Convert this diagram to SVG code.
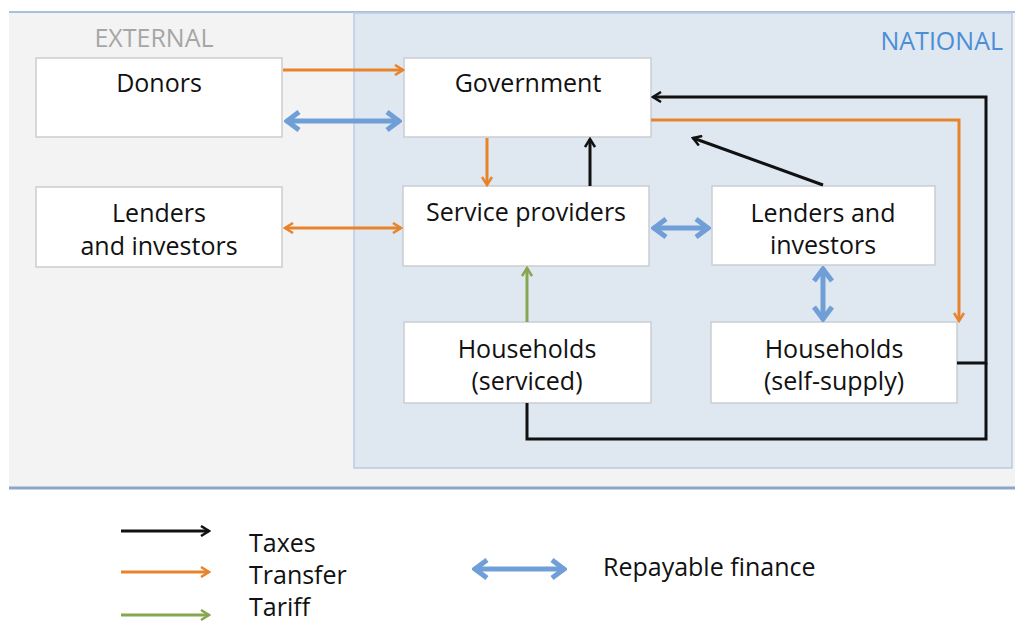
<svg xmlns="http://www.w3.org/2000/svg" width="1015" height="622" viewBox="0 0 1015 622">
<defs>
<style>
.box{fill:#ffffff;stroke:#cacdd2;stroke-width:1.5}
.t{font-family:"Open Sans","Liberation Sans",sans-serif;font-size:25px;font-weight:500;fill:#111;text-anchor:middle}
.lg{font-family:"Open Sans","Liberation Sans",sans-serif;font-size:25px;font-weight:500;fill:#111}
.hd{font-family:"Open Sans","Liberation Sans",sans-serif;font-size:25px;font-weight:500}
.blk{fill:none;stroke:#111;stroke-width:3}
.org{fill:none;stroke:#e8832a;stroke-width:3}
.grn{fill:none;stroke:#86a650;stroke-width:3}
.blu{fill:none;stroke:#6f9fd6;stroke-width:5}
</style>
<marker id="hk" viewBox="0 0 12 12" refX="10" refY="6" markerWidth="12" markerHeight="12" markerUnits="userSpaceOnUse" orient="auto-start-reverse"><path d="M2,1 L10,6 L2,11" fill="none" stroke="#111" stroke-width="2.5"/></marker>
<marker id="ho" viewBox="0 0 12 12" refX="10" refY="6" markerWidth="12" markerHeight="12" markerUnits="userSpaceOnUse" orient="auto-start-reverse"><path d="M2,1 L10,6 L2,11" fill="none" stroke="#e8832a" stroke-width="2.5"/></marker>
<marker id="hg" viewBox="0 0 12 12" refX="10" refY="6" markerWidth="12" markerHeight="12" markerUnits="userSpaceOnUse" orient="auto-start-reverse"><path d="M2,1 L10,6 L2,11" fill="none" stroke="#86a650" stroke-width="2.5"/></marker>
<marker id="hb" viewBox="0 0 18 22" refX="16" refY="11" markerWidth="18" markerHeight="22" markerUnits="userSpaceOnUse" orient="auto-start-reverse"><path d="M3,2 L15,11 L3,20" fill="none" stroke="#6f9fd6" stroke-width="5"/></marker>
</defs>
<rect x="0" y="0" width="1015" height="622" fill="#ffffff"/>
<rect x="9" y="11" width="1006" height="477" fill="#f3f3f3"/>
<line x1="9" y1="12" x2="1015" y2="12" stroke="#a9c0dc" stroke-width="2"/>
<line x1="9" y1="488" x2="1015" y2="488" stroke="#8aa6c8" stroke-width="3"/>
<rect x="354" y="13" width="658" height="455" fill="#dfe7f1" stroke="#b9cde5" stroke-width="1.5"/>
<text class="hd" x="154" y="47" fill="#a6a6a6" text-anchor="middle">EXTERNAL</text>
<text class="hd" x="1003" y="50" fill="#4a8fd6" text-anchor="end">NATIONAL</text>

<g id="donors"><rect class="box" x="36" y="58" width="246" height="79"/><text class="t" x="159" y="92">Donors</text></g>
<g id="government"><rect class="box" x="404" y="58" width="247" height="79"/><text class="t" x="528" y="92">Government</text></g>
<g id="lenders-external"><rect class="box" x="36" y="187" width="246" height="80"/><text class="t" x="159" y="222">Lenders</text><text class="t" x="159" y="255">and investors</text></g>
<g id="service-providers"><rect class="box" x="403" y="186" width="246" height="80"/><text class="t" x="526" y="221">Service providers</text></g>
<g id="lenders-national"><rect class="box" x="712" y="186" width="223" height="79"/><text class="t" x="823" y="222">Lenders and</text><text class="t" x="823" y="254">investors</text></g>
<g id="households-serviced"><rect class="box" x="404" y="322" width="247" height="81"/><text class="t" x="527" y="358">Households</text><text class="t" x="527" y="390">(serviced)</text></g>
<g id="households-self"><rect class="box" x="711" y="322" width="246" height="81"/><text class="t" x="834" y="358">Households</text><text class="t" x="834" y="390">(self-supply)</text></g>

<g id="connectors">
<line class="org" x1="283" y1="70" x2="403" y2="70" marker-end="url(#ho)"/>
<line class="blu" x1="286" y1="121" x2="400" y2="121" marker-start="url(#hb)" marker-end="url(#hb)"/>
<line class="org" x1="285" y1="228" x2="401" y2="228" marker-start="url(#ho)" marker-end="url(#ho)"/>
<line class="org" x1="487" y1="138" x2="487" y2="185" marker-end="url(#ho)"/>
<line class="blk" x1="590" y1="186" x2="590" y2="139" marker-end="url(#hk)"/>
<line class="blk" x1="823" y1="185" x2="693" y2="138" marker-end="url(#hk)"/>
<polyline class="blk" points="957,363 986,363 986,97 653,97" marker-end="url(#hk)"/>
<polyline class="blk" points="527,403 527,439 986,439 986,363"/>
<polyline class="org" points="651,120 959,120 959,321" marker-end="url(#ho)"/>
<line class="blu" x1="653" y1="228" x2="709" y2="228" marker-start="url(#hb)" marker-end="url(#hb)"/>
<line class="blu" x1="823" y1="268" x2="823" y2="320" marker-start="url(#hb)" marker-end="url(#hb)"/>
<line class="grn" x1="527" y1="322" x2="527" y2="268" marker-end="url(#hg)"/>
</g>

<g id="legend">
<line class="blk" x1="121" y1="531" x2="209" y2="531" marker-end="url(#hk)"/>
<line class="org" x1="121" y1="572" x2="209" y2="572" marker-end="url(#ho)"/>
<line class="grn" x1="121" y1="615" x2="209" y2="615" marker-end="url(#hg)"/>
<line class="blu" x1="474" y1="569" x2="565" y2="569" marker-start="url(#hb)" marker-end="url(#hb)"/>
<text class="lg" x="249" y="552">Taxes</text>
<text class="lg" x="249" y="584">Transfer</text>
<text class="lg" x="249" y="616">Tariff</text>
<text class="lg" x="603" y="576">Repayable finance</text>
</g>
</svg>
